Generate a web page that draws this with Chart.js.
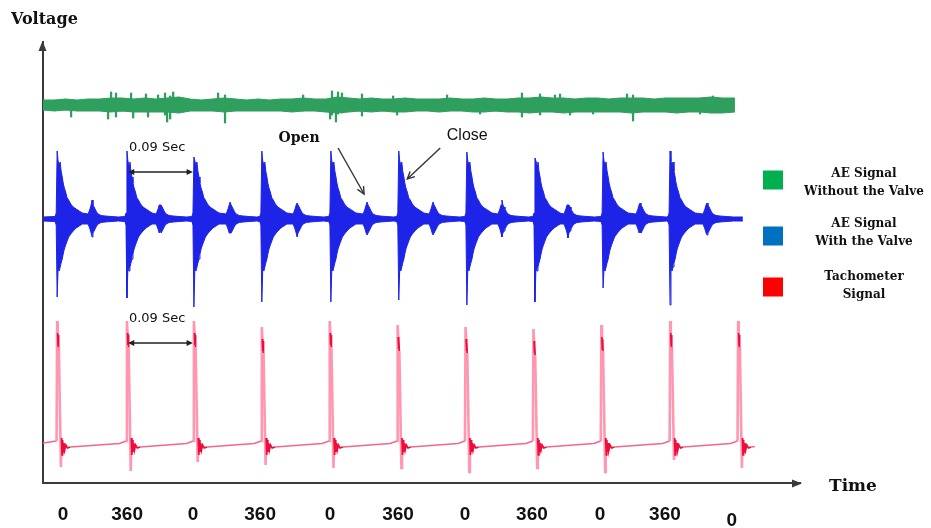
<!DOCTYPE html>
<html>
<head>
<meta charset="utf-8">
<title>AE and tachometer signals</title>
<script src="https://cdn.jsdelivr.net/npm/chart.js@4.4.1/dist/chart.umd.min.js"></script>
<style>
  html, body { margin: 0; background: #fff; }
  canvas { display: block; }
</style>
</head>
<body>
<canvas id="signals" width="931" height="528"></canvas>
<script>
// x = crank angle in degrees (360 deg = one revolution = 0.09 s), y = voltage in plot counts

const tickAngles = [26, 366, 715, 1071, 1442, 1802, 2157, 2512, 2873, 3217, 3572];
const tickLabels = ['0', '360', '0', '360', '0', '360', '0', '360', '0', '360', '0'];

// AE signal without the valve: noise band + isolated spikes
const noiseBase = 378;
const noiseAngles = [-80, -20, 40, 100, 160, 220, 280, 340, 400, 460, 520, 580, 640, 700, 760, 820,
  880, 940, 1000, 1060, 1120, 1180, 1240, 1300, 1360, 1420, 1480, 1540, 1600, 1660, 1720, 1780,
  1840, 1900, 1960, 2020, 2080, 2140, 2200, 2260, 2320, 2380, 2440, 2500, 2560, 2620, 2680, 2740,
  2800, 2860, 2920, 2980, 3040, 3100, 3160, 3220, 3280, 3340, 3400, 3460, 3520, 3588];
const noiseHi = [5, 5, 6, 5, 6, 6, 7, 7, 6, 7, 6, 7, 8, 6, 5, 6, 7, 6, 5, 6, 5, 6, 6, 7, 6, 6, 8, 7, 6, 7, 6,
  6, 7, 6, 6, 6, 7, 6, 6, 7, 6, 6, 7, 7, 8, 7, 7, 6, 7, 7, 6, 7, 7, 7, 6, 7, 7, 7, 7, 8, 7, 7];
const noiseLo = [-5, -6, -5, -6, -6, -6, -7, -6, -7, -7, -7, -7, -8, -6, -6, -6, -7, -6, -6, -6, -6, -6,
  -7, -6, -6, -7, -8, -7, -6, -7, -6, -7, -7, -6, -6, -7, -6, -6, -7, -7, -6, -7, -7, -8, -7, -7, -8,
  -7, -7, -7, -7, -7, -8, -7, -7, -7, -8, -7, -7, -8, -8, -7];
const spikeAngles = [69, 265, 281, 307, 387, 398, 466, 477, 530, 567, 578, 594, 610, 848, 885, 1299,
  1442, 1452, 1473, 1484, 1505, 1611, 1776, 1797, 2062, 2237, 2459, 2555, 2634, 2661, 2714, 2836,
  3016, 3048, 3403, 3472];
const spikeHi = [4, 6, 13, 12, 12, 5, 11, 5, 10, 12, 6, 9, 13, 12, 10, 10,
  6, 14, 6, 13, 12, 11, 9, 5, 10, 5, 12, 11, 10, 11, 5, 5,
  11, 10, 5, 9];
const spikeLo = [-12, -14, -5, -12, -6, -13, -5, -12, -6, -10, -17, -14, -6, -6, -18, -6,
  -14, -10, -17, -9, -8, -11, -5, -10, -5, -9, -12, -10, -6, -6, -10, -9,
  -6, -16, -9, -6];

// AE signal with the valve: closing impact + opening burst every revolution
const valveBase = 264;
const closeAngles = [-5, 365, 720, 1080, 1446, 1806, 2167, 2528, 2889, 3244];
const closeTipHi = [68, 68, 62, 68, 68, 68, 67, 61, 67, 68];
const closeTipLo = [-78, -79, -88, -83, -83, -81, -86, -83, -69, -86];
const decayOffsets = [5, 11, 16, 21, 27, 32, 38, 45, 53, 61, 72, 85, 101, 117, 133];
const decayHi = [58, 54, 57, 48, 42, 36, 31, 27, 21, 19, 15, 12, 10, 8, 6];
const decayLo = [-50, -52, -48, -44, -40, -35, -30, -26, -22, -18, -15, -12, -9, -7, -5];
const openAngles = [180, 541, 912, 1267, 1638, 1988, 2353, 2703, 3085, 3440];
const openHi = [19, 14, 17, 16, 17, 17, 19, 14, 16, 16];
const openLo = [-18, -11, -14, -18, -16, -16, -18, -19, -11, -16];
const openLeadOffsets = [-21, -11, -5];
const openLead = [5, 10, 14];
const openTailOffsets = [5, 11, 16, 24, 32, 48, 69, 101, 140];
const openTail = [14, 12, 10, 7, 5, 3.5, 3, 2.5, 2];

// tachometer: one pulse per revolution
const tachoBase = 36;
const tachoAngles = [-5, 365, 720, 1080, 1440, 1800, 2160, 2520, 2880, 3245, 3605];
const tachoPeak = [126, 126, 126, 120, 126, 122, 120, 118, 122, 126, 126];
const tachoDip = [-20, -24, -15, -18, -21, -21, -25, -21, -25, -13, -21];
const pulseTopOffsets = [3, 5, 7, 9];
const pulseTopDrop = [-12, -24, -14, -26];
const ringOffsets = [23, 26, 29, 32, 36, 40, 46, 55, 70];
const ringLevels = [9, -8, 7, -5, 4, -3, 2, -1, 0];

const traceNames = [['AE Signal', 'Without the Valve'], ['AE Signal', 'With the Valve'], ['Tachometer', 'Signal']];
const swatchColors = ['#00b050', '#0070c0', '#ff0000'];

const GREEN = '#2f9f5d';
const BLUE = '#1d24e8';
const TACHO_TONES = {
  flank: {color: 'rgba(255, 140, 168, 0.9)', width: 2.6},
  ring: {color: '#ee0c3a', width: 1.7},
  base: {color: '#f4678a', width: 1.5}
};

function noiseEdge(values) {
  return noiseAngles.map((a, i) => ({x: a, y: noiseBase + values[i]}));
}

function valveEdge(side) {
  const upper = side > 0;
  const pts = [{x: -80, y: valveBase + side * 2}];
  closeAngles.forEach((c, i) => {
    pts.push({x: c - 11, y: valveBase + side * 2.5});
    pts.push({x: c - 5, y: valveBase + side * 6});
    pts.push({x: c, y: valveBase + (upper ? closeTipHi[i] : closeTipLo[i])});
    decayOffsets.forEach((d, k) => {
      pts.push({x: c + d, y: valveBase + (upper ? decayHi[k] : decayLo[k])});
    });
    const o = openAngles[i];
    openLeadOffsets.forEach((d, k) => pts.push({x: o + d, y: valveBase + side * openLead[k]}));
    pts.push({x: o, y: valveBase + (upper ? openHi[i] : openLo[i])});
    openTailOffsets.forEach((d, k) => pts.push({x: o + d, y: valveBase + side * openTail[k]}));
  });
  pts.push({x: 3630, y: valveBase + side * 2});
  return pts;
}

// each point carries the tone of the segment that starts at it
function tachoTrace() {
  const pts = [{x: -80, y: tachoBase + 4, tone: 'base'}];
  tachoAngles.forEach((a, i) => {
    pts.push({x: a - 3, y: tachoBase + 6, tone: 'flank'});
    pts.push({x: a, y: tachoBase + tachoPeak[i], tone: 'flank'});
    pulseTopOffsets.forEach((d, k) => {
      pts.push({x: a + d, y: tachoBase + tachoPeak[i] + pulseTopDrop[k], tone: k < 3 ? 'ring' : 'flank'});
    });
    pts.push({x: a + 20, y: tachoBase + tachoDip[i], tone: 'flank'});
    ringOffsets.forEach((d, k) => {
      pts.push({x: a + d, y: tachoBase + ringLevels[k], tone: k < ringOffsets.length - 1 ? 'ring' : 'base'});
    });
    if (i < tachoAngles.length - 1) pts.push({x: tachoAngles[i + 1] - 40, y: tachoBase + 3.5, tone: 'base'});
  });
  pts.push({x: 3694, y: tachoBase + 0.5, tone: 'base'});
  return pts;
}

const tachoPoints = tachoTrace();
const tachoStyle = ctx => TACHO_TONES[tachoPoints[ctx.p0DataIndex].tone];

function arrowHead(ctx, x0, y0, x1, y1, size, filled) {
  const ang = Math.atan2(y1 - y0, x1 - x0);
  ctx.beginPath();
  ctx.moveTo(x1 - size * Math.cos(ang - 0.45), y1 - size * Math.sin(ang - 0.45));
  ctx.lineTo(x1, y1);
  ctx.lineTo(x1 - size * Math.cos(ang + 0.45), y1 - size * Math.sin(ang + 0.45));
  if (filled) { ctx.closePath(); ctx.fill(); } else { ctx.stroke(); }
}

const overlay = {
  id: 'overlay',
  afterDraw(chart) {
    const {ctx, chartArea: a, scales: {x, y}} = chart;
    ctx.save();

    // axis arrows
    ctx.fillStyle = '#3a3a3a';
    ctx.beginPath();
    ctx.moveTo(a.left - 0.5, a.top - 1);
    ctx.lineTo(a.left - 4.5, a.top + 9);
    ctx.lineTo(a.left + 3.5, a.top + 9);
    ctx.fill();
    ctx.beginPath();
    ctx.moveTo(a.right + 2, a.bottom + 0.5);
    ctx.lineTo(a.right - 8, a.bottom - 3.5);
    ctx.lineTo(a.right - 8, a.bottom + 4.5);
    ctx.fill();

    ctx.fillStyle = '#111';
    ctx.textBaseline = 'alphabetic';
    ctx.textAlign = 'left';
    ctx.font = 'bold 16px "DejaVu Serif", serif';
    ctx.fillText('Voltage', 11, 24);
    ctx.font = 'bold 17px "DejaVu Serif", serif';
    ctx.fillText('Time', 829, 491);

    // one revolution between two impacts / two tacho pulses
    ctx.strokeStyle = '#222';
    ctx.fillStyle = '#222';
    ctx.lineWidth = 1.5;
    [[closeAngles, valveBase + 47], [tachoAngles, tachoBase + 104]].forEach(([angles, level]) => {
      const x0 = x.getPixelForValue(angles[1]) + 1;
      const x1 = x.getPixelForValue(angles[2]) - 1;
      const py = y.getPixelForValue(level);
      ctx.beginPath();
      ctx.moveTo(x0 + 3, py);
      ctx.lineTo(x1 - 3, py);
      ctx.stroke();
      arrowHead(ctx, x1, py, x0, py, 7, true);
      arrowHead(ctx, x0, py, x1, py, 7, true);
      ctx.fillStyle = '#111';
      ctx.font = '13px "DejaVu Sans", sans-serif';
      ctx.textBaseline = 'middle';
      ctx.fillText('0.09 Sec', x0 + 1, py - 24);
      ctx.fillStyle = '#222';
    });

    // valve events
    const openTip = [x.getPixelForValue(openAngles[4] - 16), y.getPixelForValue(valveBase + 25)];
    const closeTip = [x.getPixelForValue(closeAngles[5] + 45), y.getPixelForValue(valveBase + 40)];
    const notes = [
      {text: 'Open', font: 'bold 14px "DejaVu Serif", serif', tip: openTip, tail: [-26, -46], label: [-39, -10]},
      {text: 'Close', font: '16px "Liberation Sans", Arial, sans-serif', tip: closeTip, tail: [33, -31], label: [27, -12]}
    ];
    ctx.lineWidth = 1.4;
    notes.forEach(n => {
      const tx = n.tip[0] + n.tail[0];
      const ty = n.tip[1] + n.tail[1];
      ctx.strokeStyle = '#333';
      ctx.beginPath();
      ctx.moveTo(tx, ty);
      ctx.lineTo(n.tip[0], n.tip[1]);
      ctx.stroke();
      arrowHead(ctx, tx, ty, n.tip[0], n.tip[1], 8, false);
      ctx.fillStyle = '#111';
      ctx.font = n.font;
      ctx.textAlign = 'center';
      ctx.textBaseline = 'middle';
      ctx.fillText(n.text, tx + n.label[0], ty + n.label[1]);
    });

    // legend
    const rows = [{box: 180, text: 174}, {box: 236, text: 224}, {box: 287, text: 277}];
    ctx.font = 'bold 12px "DejaVu Serif", serif';
    ctx.textAlign = 'center';
    ctx.textBaseline = 'middle';
    traceNames.forEach((lines, i) => {
      ctx.fillStyle = swatchColors[i];
      ctx.fillRect(763, rows[i].box - 9.5, 20, 19);
      ctx.fillStyle = '#111';
      lines.forEach((t, k) => ctx.fillText(t, 864, rows[i].text + k * 17.5));
    });
    ctx.restore();
  }
};

new Chart(document.getElementById('signals'), {
  type: 'line',
  data: {
    datasets: [
      {
        label: traceNames[0].join(' '),
        data: noiseEdge(noiseHi),
        borderColor: GREEN, backgroundColor: GREEN, borderWidth: 1.2,
        fill: '+1', pointRadius: 0
      },
      {
        data: noiseEdge(noiseLo),
        borderColor: GREEN, borderWidth: 1.2, fill: false, pointRadius: 0
      },
      {
        type: 'bar',
        data: spikeAngles.map((a, i) => ({x: a, y: [noiseBase + spikeLo[i], noiseBase + spikeHi[i]]})),
        backgroundColor: GREEN, barThickness: 1.6, grouped: false
      },
      {
        label: traceNames[1].join(' '),
        data: valveEdge(1),
        borderColor: BLUE, backgroundColor: BLUE, borderWidth: 1,
        fill: '+1', pointRadius: 0
      },
      {
        data: valveEdge(-1),
        borderColor: BLUE, borderWidth: 1, fill: false, pointRadius: 0
      },
      {
        label: traceNames[2].join(' '),
        data: tachoPoints,
        borderColor: TACHO_TONES.base.color, borderWidth: 1.5, fill: false, pointRadius: 0,
        segment: {
          borderColor: c => tachoStyle(c).color,
          borderWidth: c => tachoStyle(c).width
        }
      }
    ]
  },
  options: {
    responsive: false,
    devicePixelRatio: 1,
    animation: false,
    events: [],
    layout: {padding: {left: 43, top: 42, right: 131, bottom: 2}},
    scales: {
      x: {
        type: 'linear', min: -80, max: 3933, offset: false,
        grid: {display: false, drawTicks: false},
        border: {display: true, color: '#3a3a3a', width: 2},
        afterBuildTicks: axis => { axis.ticks = tickAngles.map(v => ({value: v})); },
        afterFit: axis => { axis.height = 43; },
        ticks: {
          padding: 20, color: '#111', autoSkip: false, maxRotation: 0,
          font: c => ({
            family: '"Liberation Sans", Arial, sans-serif', size: 19, weight: 'bold',
            lineHeight: c.index === tickAngles.length - 1 ? 0.61 : 1.2
          }),
          callback: (v, i) => i === tickLabels.length - 1 ? ['', tickLabels[i]] : tickLabels[i]
        }
      },
      y: {
        min: 0, max: 441,
        grid: {display: false, drawTicks: false},
        border: {display: true, color: '#3a3a3a', width: 2},
        ticks: {display: false}
      }
    },
    plugins: {legend: {display: false}, tooltip: {enabled: false}}
  },
  plugins: [overlay]
});
</script>
</body>
</html>
